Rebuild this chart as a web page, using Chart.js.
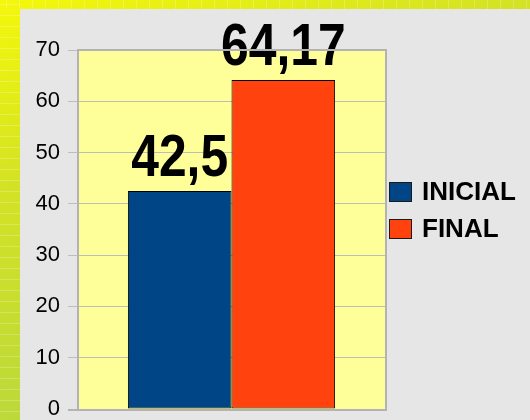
<!DOCTYPE html>
<html>
<head>
<meta charset="utf-8">
<script src="https://cdn.jsdelivr.net/npm/chart.js@4/dist/chart.umd.min.js"></script>
<style>
  html, body { margin: 0; padding: 0; background: #e6e6e6; }
  canvas { display: block; }
</style>
</head>
<body>
<canvas id="myChart" width="530" height="420"></canvas>
<script>
// data
const categories = [''];
const seriesNames = ['INICIAL', 'FINAL'];
const seriesValues = [42.5, 64.17];
const seriesColors = ['#004586', '#ff420e'];
const yTicks = { min: 0, max: 70, step: 10 };

// slide background + gray panel
const backgroundPlugin = {
  id: 'slideBg',
  beforeDraw(chart) {
    const ctx = chart.ctx;
    ctx.save();
    const g = ctx.createLinearGradient(0, 0, 150, 420);
    g.addColorStop(0, '#f4f80a');
    g.addColorStop(0.4, '#d3e224');
    g.addColorStop(0.9, '#bcd93a');
    g.addColorStop(1, '#b8d63c');
    ctx.fillStyle = g;
    ctx.fillRect(0, 0, chart.width, chart.height);
    // faint stripes in the strips
    ctx.strokeStyle = 'rgba(255,255,255,0.22)';
    ctx.lineWidth = 1;
    for (let y = 4; y < 420; y += 11) {
      ctx.beginPath(); ctx.moveTo(0, y + 0.5); ctx.lineTo(20, y + 0.5); ctx.stroke();
    }
    for (let x = 6; x < 530; x += 13) {
      ctx.beginPath(); ctx.moveTo(x + 0.5, 0); ctx.lineTo(x + 0.5, 9); ctx.stroke();
    }
    ctx.fillStyle = '#e6e6e6';
    ctx.fillRect(20, 9, chart.width - 20, chart.height - 9);
    // plot area
    const a = chart.chartArea;
    ctx.fillStyle = '#ffff99';
    ctx.fillRect(a.left, a.top, a.right - a.left, a.bottom - a.top);
    ctx.restore();
  },
  afterDraw(chart) {
    const ctx = chart.ctx;
    const a = chart.chartArea;
    ctx.save();
    ctx.strokeStyle = '#b3b3b3';
    ctx.lineWidth = 2;
    ctx.beginPath();
    ctx.moveTo(a.left, a.top);
    ctx.lineTo(a.right + 1, a.top);
    ctx.lineTo(a.right + 1, a.bottom + 1);
    ctx.lineTo(a.left - 10, a.bottom + 1);
    ctx.stroke();
    ctx.restore();
  }
};

// big value labels above the bars
const valueLabels = {
  id: 'valueLabels',
  afterDatasetsDraw(chart) {
    const ctx = chart.ctx;
    ctx.save();
    ctx.fillStyle = '#000';
    ctx.font = 'bold 60px "Liberation Sans", Arial, sans-serif';
    ctx.textAlign = 'center';
    ctx.textBaseline = 'alphabetic';
    chart.data.datasets.forEach((ds, i) => {
      const bar = chart.getDatasetMeta(i).data[0];
      const txt = String(ds.data[0]).replace('.', ',');
      ctx.save();
      ctx.translate(bar.x, bar.y - 15);
      ctx.scale(0.83, 1);
      ctx.fillText(txt, 0, 0);
      ctx.restore();
    });
    ctx.restore();
  }
};

// legend on the right
const sideLegend = {
  id: 'sideLegend',
  afterDraw(chart) {
    const ctx = chart.ctx;
    ctx.save();
    ctx.font = 'bold 26px "Liberation Sans", Arial, sans-serif';
    ctx.textBaseline = 'middle';
    chart.data.datasets.forEach((ds, i) => {
      const y = 182 + i * 37;
      ctx.fillStyle = ds.backgroundColor;
      ctx.fillRect(389, y, 23, 20);
      ctx.strokeStyle = '#1a1a1a';
      ctx.lineWidth = 1;
      ctx.strokeRect(389.5, y + 0.5, 22, 19);
      ctx.fillStyle = '#000';
      ctx.fillText(ds.label, 422, y + 11);
    });
    ctx.restore();
  }
};

const ctx = document.querySelector('#myChart');
new Chart(ctx, {
  type: 'bar',
  data: {
    labels: categories,
    datasets: seriesNames.map((name, i) => ({
      label: name,
      data: [seriesValues[i]],
      backgroundColor: seriesColors[i],
      borderColor: '#000',
      borderWidth: 1,
      borderSkipped: false,
      barPercentage: 1,
      categoryPercentage: 0.675
    }))
  },
  options: {
    responsive: false,
    animation: false,
    layout: { padding: { left: 20, right: 145, top: 50, bottom: 11 } },
    plugins: {
      legend: { display: false },
      tooltip: { enabled: false }
    },
    scales: {
      x: {
        display: false
      },
      y: {
        min: yTicks.min,
        max: yTicks.max,
        ticks: {
          stepSize: yTicks.step,
          color: '#000',
          padding: 8,
          font: { family: '"Liberation Sans", Arial, sans-serif', size: 22 }
        },
        grid: { color: '#bdbdbd', lineWidth: 1, tickLength: 10 },
        border: { color: '#b3b3b3', width: 2 },
        afterFit: s => { s.width = 58; s.paddingTop = 0; s.paddingBottom = 0; }
      }
    }
  },
  plugins: [backgroundPlugin, valueLabels, sideLegend]
});
</script>
</body>
</html>
